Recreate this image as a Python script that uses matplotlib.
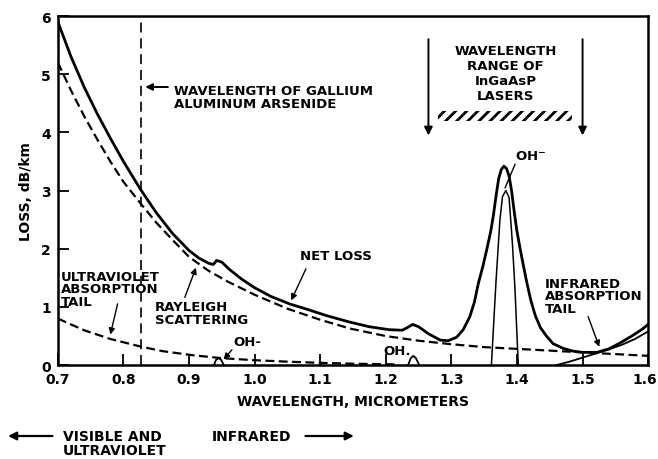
import matplotlib
matplotlib.use("Agg")
import matplotlib.pyplot as plt
from matplotlib.patches import Rectangle, FancyArrowPatch
from matplotlib.transforms import ScaledTranslation

# ---- data ----
# net loss (solid heavy line)
net_wl = [0.70, 0.72, 0.74, 0.76, 0.78, 0.80, 0.826, 0.85, 0.875, 0.90, 0.915, 0.930,
          0.937, 0.942, 0.950, 0.96, 0.98, 1.00, 1.025, 1.054, 1.08, 1.11, 1.145, 1.175,
          1.205, 1.225, 1.232, 1.241, 1.25, 1.265, 1.283, 1.295, 1.308, 1.318, 1.328,
          1.335, 1.341, 1.348, 1.354, 1.36, 1.364, 1.368, 1.372, 1.376, 1.380, 1.384,
          1.388, 1.392, 1.396, 1.400, 1.405, 1.410, 1.415, 1.421, 1.428, 1.436, 1.445,
          1.455, 1.47, 1.486, 1.50, 1.522, 1.54, 1.557, 1.575, 1.59, 1.60]
net_loss = [5.90, 5.30, 4.78, 4.32, 3.90, 3.50, 3.02, 2.62, 2.26, 1.97, 1.84, 1.75,
            1.73, 1.80, 1.77, 1.66, 1.48, 1.33, 1.18, 1.05, 0.96, 0.85, 0.74, 0.66,
            0.61, 0.60, 0.64, 0.70, 0.66, 0.54, 0.43, 0.42, 0.48, 0.61, 0.83,
            1.08, 1.40, 1.70, 1.99, 2.30, 2.57, 2.90, 3.20, 3.36, 3.42, 3.38,
            3.25, 2.98, 2.62, 2.30, 1.99, 1.70, 1.42, 1.12, 0.85, 0.64, 0.50,
            0.37, 0.29, 0.24, 0.22, 0.22, 0.28, 0.38, 0.50, 0.61, 0.70]

# rayleigh scattering (dashed)
ray_wl = [0.70, 0.72, 0.74, 0.76, 0.78, 0.80, 0.826, 0.85, 0.875, 0.90, 0.93, 0.96,
          1.00, 1.05, 1.10, 1.145, 1.20, 1.25, 1.30, 1.35, 1.40, 1.45, 1.50, 1.55, 1.60]
ray_loss = [5.20, 4.72, 4.28, 3.88, 3.50, 3.15, 2.78, 2.45, 2.15, 1.86, 1.62, 1.43,
            1.21, 0.97, 0.78, 0.63, 0.50, 0.42, 0.36, 0.31, 0.28, 0.25, 0.22, 0.19, 0.16]

# ultraviolet absorption tail (dashed)
uv_wl = [0.70, 0.74, 0.78, 0.826, 0.86, 0.906, 0.95, 1.00, 1.05, 1.10, 1.15, 1.22]
uv_loss = [0.80, 0.60, 0.45, 0.32, 0.24, 0.17, 0.12, 0.085, 0.06, 0.04, 0.025, 0.012]

# infrared absorption tail (thin solid)
ir_wl = [1.46, 1.48, 1.50, 1.52, 1.54, 1.56, 1.58, 1.60]
ir_loss = [0.0, 0.06, 0.13, 0.20, 0.27, 0.35, 0.45, 0.58]

# OH- absorption peaks (thin solid)
oh1_wl = [0.938, 0.941, 0.945, 0.949, 0.953]
oh1_loss = [0.0, 0.09, 0.12, 0.09, 0.0]
oh2_wl = [1.234, 1.238, 1.242, 1.246, 1.251]
oh2_loss = [0.0, 0.12, 0.16, 0.12, 0.0]
oh3_wl = [1.361, 1.368, 1.374, 1.378, 1.383, 1.388, 1.393, 1.397, 1.402]
oh3_loss = [0.0, 1.43, 2.50, 2.90, 3.00, 2.88, 2.10, 1.30, 0.0]

gaalas_wl = 0.826
laser_range = [1.265, 1.50]
hatch_range = [1.28, 1.484]

x_ticks = [0.7, 0.8, 0.9, 1.0, 1.1, 1.2, 1.3, 1.4, 1.5, 1.6]
x_labels = ["0.7", "0.8", "0.9", "1.0", "1.1", "1.2", "1.3", "1.4", "1.5", "1.6"]
y_ticks = [0, 1, 2, 3, 4, 5, 6]

plt.rcParams["font.family"] = "DejaVu Sans"
plt.rcParams["font.weight"] = "bold"
plt.rcParams["hatch.linewidth"] = 2.0

fig = plt.figure(figsize=(6.58, 4.60), dpi=100)
ax = fig.add_axes([0.088, 0.204, 0.897, 0.759])

dash = (0, (4, 2))
ax.plot(net_wl, net_loss, color="black", lw=2.0)
ax.plot(ray_wl, ray_loss, color="black", lw=1.6, linestyle=dash)
ax.plot(uv_wl, uv_loss, color="black", lw=1.6, linestyle=dash)
ax.plot(ir_wl, ir_loss, color="black", lw=1.3)
ax.plot(oh1_wl, oh1_loss, color="black", lw=1.3)
ax.plot(oh2_wl, oh2_loss, color="black", lw=1.3)
ax.plot(oh3_wl, oh3_loss, color="black", lw=1.1)

# GaAlAs wavelength marker
ax.axvline(gaalas_wl, color="black", lw=1.2, linestyle=(0, (6, 3.5)))
ax.annotate("", xy=(gaalas_wl + 0.003, 4.78), xytext=(0.872, 4.78),
            arrowprops=dict(arrowstyle="-|>", color="black", lw=1.4, mutation_scale=10))
ax.text(0.877, 4.61, "WAVELENGTH OF GALLIUM\nALUMINUM ARSENIDE", fontsize=9.5,
        fontweight="bold", va="center", ha="left", linespacing=0.95)

# InGaAsP laser range
for xl in laser_range:
    ax.annotate("", xy=(xl, 3.9), xytext=(xl, 5.65),
                arrowprops=dict(arrowstyle="-|>", color="black", lw=1.4,
                                mutation_scale=12))
ax.text(sum(laser_range) / 2, 5.02, "WAVELENGTH\nRANGE OF\nInGaAsP\nLASERS",
        fontsize=9.5, fontweight="bold", ha="center", va="center", linespacing=1.2)
ax.add_patch(Rectangle((hatch_range[0], 4.2), hatch_range[1] - hatch_range[0], 0.17,
                       fill=False, hatch="///", lw=0, edgecolor="black"))

# labels with pointers
arrow_kw = dict(arrowstyle="-|>", color="black", lw=1.0, mutation_scale=9)
ax.text(1.397, 3.60, "OH$^{\\mathbf{-}}$", fontsize=9.5, fontweight="bold", ha="left", va="center")
ax.plot([1.397, 1.382], [3.45, 3.05], color="black", lw=1.0)

ax.text(1.124, 1.89, "NET LOSS", fontsize=9.5, fontweight="bold", ha="center", va="center")
ax.annotate("", xy=(1.054, 1.07), xytext=(1.080, 1.70), arrowprops=arrow_kw)

ax.text(0.848, 0.89, "RAYLEIGH\nSCATTERING", fontsize=9.5, fontweight="bold",
        ha="left", va="center", linespacing=1.0)
ax.annotate("", xy=(0.912, 1.72), xytext=(0.892, 1.12), arrowprops=arrow_kw)

ax.text(0.705, 1.31, "ULTRAVIOLET\nABSORPTION\nTAIL", fontsize=9.5, fontweight="bold",
        ha="left", va="center", linespacing=0.95)
ax.annotate("", xy=(0.779, 0.48), xytext=(0.792, 1.10), arrowprops=arrow_kw)

ax.text(1.443, 1.19, "INFRARED\nABSORPTION\nTAIL", fontsize=9.5, fontweight="bold",
        ha="left", va="center", linespacing=0.95)
ax.annotate("", xy=(1.527, 0.27), xytext=(1.507, 0.88), arrowprops=arrow_kw)

ax.text(0.967, 0.40, "OH-", fontsize=9.5, fontweight="bold", ha="left", va="center")
ax.annotate("", xy=(0.950, 0.06), xytext=(0.968, 0.30), arrowprops=arrow_kw)

ax.text(1.197, 0.26, "OH.", fontsize=9.5, fontweight="bold", ha="left", va="center")

# axes styling
ax.set_xlim(0.7, 1.6)
ax.set_ylim(0, 6)
ax.set_xticks(x_ticks)
ax.set_xticklabels(x_labels)
ax.set_yticks(y_ticks)
ax.tick_params(direction="in", length=8, width=1.3, labelsize=10, pad=5)
for lab in ax.get_xticklabels() + ax.get_yticklabels():
    lab.set_fontweight("bold")
last = ax.get_xticklabels()[-1]
last.set_ha("right")
last.set_transform(last.get_transform() + ScaledTranslation(0.09, 0, fig.dpi_scale_trans))
for sp in ax.spines.values():
    sp.set_linewidth(1.8)
ax.set_xlabel("WAVELENGTH, MICROMETERS", fontsize=10, fontweight="bold", labelpad=6)
ax.set_ylabel("LOSS, dB/km", fontsize=10, fontweight="bold", labelpad=6)

# region labels under the chart
fig.text(0.096, 0.035, "VISIBLE AND\nULTRAVIOLET", fontsize=10, fontweight="bold",
         ha="left", va="center", linespacing=0.95)
fig.text(0.322, 0.050, "INFRARED", fontsize=10, fontweight="bold", ha="left", va="center")
fig.add_artist(FancyArrowPatch((0.084, 0.050), (0.008, 0.050), transform=fig.transFigure,
                               arrowstyle="-|>", mutation_scale=12, color="black", lw=1.6))
fig.add_artist(FancyArrowPatch((0.460, 0.050), (0.542, 0.050), transform=fig.transFigure,
                               arrowstyle="-|>", mutation_scale=12, color="black", lw=1.6))

fig.savefig("out.png", dpi=100)
